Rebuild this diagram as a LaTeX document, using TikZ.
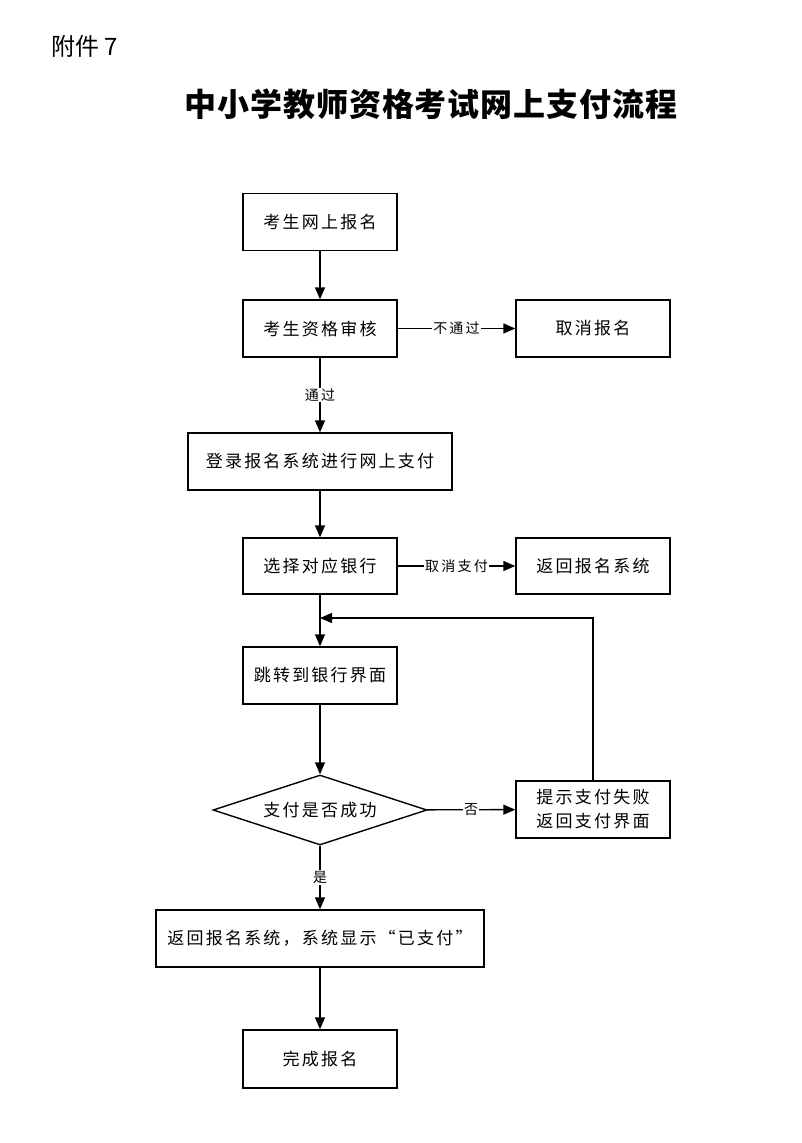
\documentclass[tikz,border=0pt]{standalone}
\usepackage{fontspec}
\usetikzlibrary{shapes.geometric,arrows.meta}
\setmainfont{Noto Sans CJK SC}
\newfontfamily\boxfont[LetterSpace=13]{Noto Sans CJK SC}
\newfontfamily\lblfont[LetterSpace=16]{Noto Sans CJK SC}
\newfontfamily\titlefont[LetterSpace=3]{Noto Sans CJK SC}
\begin{document}
\begin{tikzpicture}[x=1pt,y=-1pt,
  box/.style={draw,line width=1.4pt,inner sep=0pt,minimum height=57pt,font=\boxfont\fontsize{17}{19}\selectfont},
  decision/.style={draw,diamond,aspect=3.06,line width=1.4pt,inner sep=0pt,minimum width=214pt,minimum height=70pt,font=\boxfont\fontsize{17}{19}\selectfont},
  flow/.style={line width=1.4pt,-{Triangle[length=12pt,width=10pt]}},
  lbl/.style={fill=white,inner sep=1pt,font=\lblfont\fontsize{14}{16}\selectfont}
]
\useasboundingbox (0,0) rectangle (802,1143);
\node[anchor=west,font=\fontsize{24}{28}\selectfont] (att) at (48,46) {附件 7};
\node[font=\titlefont\bfseries\fontsize{32}{36}\selectfont] (title) at (431,104) {中小学教师资格考试网上支付流程};

\node[box,minimum width=154pt] (reg) at (320,222) {考生网上报名};
\node[box,minimum width=154pt] (check) at (320,328.5) {考生资格审核};
\node[box,minimum width=154pt] (cancel) at (593,328.5) {取消报名};
\node[box,minimum width=264pt] (login) at (320,461.5) {登录报名系统进行网上支付};
\node[box,minimum width=154pt,minimum height=56pt] (bank) at (320,566) {选择对应银行};
\node[box,minimum width=154pt,minimum height=56pt] (back) at (593,566) {返回报名系统};
\node[box,minimum width=154pt] (jump) at (320,675.5) {跳转到银行界面};
\node[decision] (ok) at (320,810) {支付是否成功};
\node[box,minimum width=154pt,align=center,font=\boxfont\fontsize{17}{24}\selectfont] (fail) at (593,809.5) {提示支付失败\\返回支付界面};
\node[box,minimum width=328pt] (done) at (320,938.5) {返回报名系统，系统显示“已支付”};
\node[box,minimum width=154pt,minimum height=58pt] (finish) at (320,1059) {完成报名};
\coordinate (loop) at (320,618);

\draw[flow] (reg) -- (check);
\draw[flow] (check) -- node[lbl] {不通过} (cancel);
\draw[flow] (check) -- node[lbl] {通过} (login);
\draw[flow] (login) -- (bank);
\draw[flow] (bank) -- node[lbl] {取消支付} (back);
\draw[flow] (bank) -- (jump);
\draw[flow] (fail.north) |- (loop);
\draw[flow] (jump) -- (ok);
\draw[flow] (ok) -- node[lbl] {否} (fail);
\draw[flow] (ok) -- node[lbl] {是} (done);
\draw[flow] (done) -- (finish);
\end{tikzpicture}
\end{document}
